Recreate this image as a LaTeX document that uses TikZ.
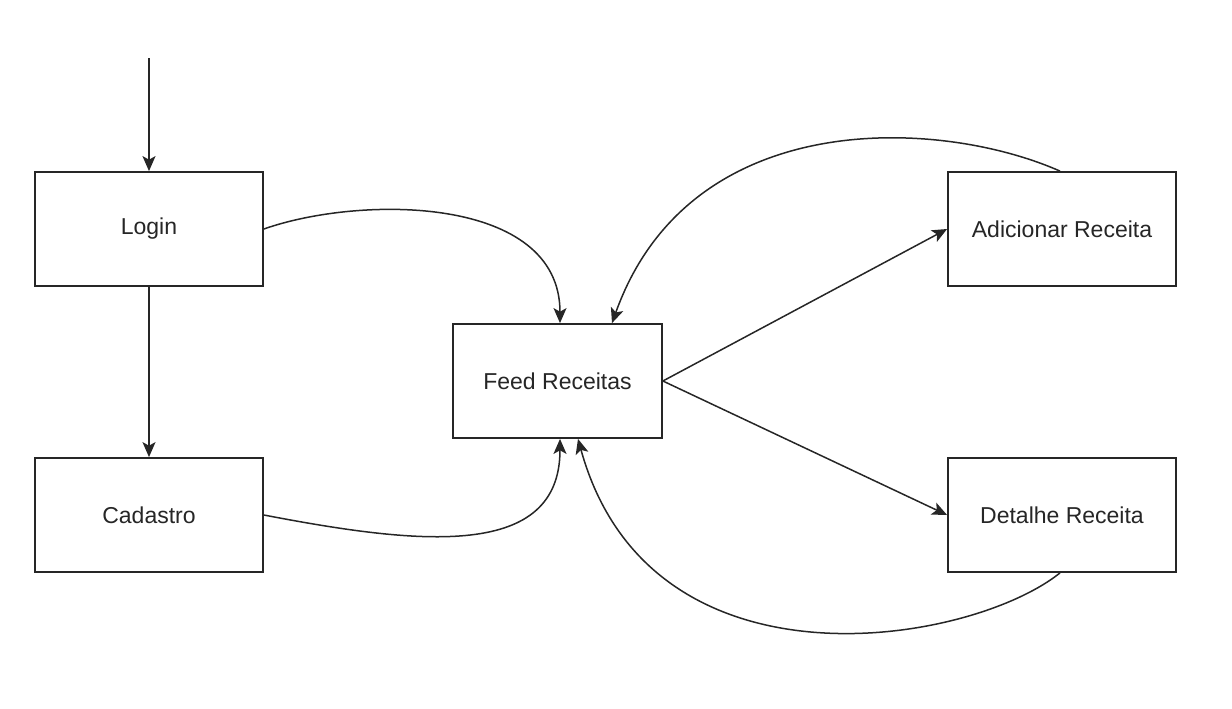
\documentclass[tikz,border=0pt]{standalone}
\usepackage{fontspec}
\setmainfont{Liberation Sans}
\usetikzlibrary{arrows.meta}
\begin{document}
\begin{tikzpicture}[x=0.5pt,y=-0.5pt,
  box/.style={draw=black!85,line width=0.9pt,fill=white,minimum width=114pt,minimum height=57pt,inner sep=0pt,font=\fontsize{11.5}{13}\selectfont,text=black!85},
  conn/.style={draw=black!85,line width=0.75pt,-{Stealth[length=7.5pt,width=6.5pt,inset=1.8pt]}}]
\useasboundingbox (0,0) rectangle (1232,708);
\node[box] (login) at (149,229) {Login};
\node[box] (cad) at (149,515) {Cadastro};
\node[box,minimum width=104.5pt] (feed) at (557.5,381) {Feed Receitas};
\node[box] (add) at (1062,229) {Adicionar Receita};
\node[box] (det) at (1062,515) {Detalhe Receita};
\coordinate (start) at (149,58);
\draw[conn] (start) -- (login.north);
\draw[conn] (login.south) -- (cad.north);
\draw[conn] (login.east) .. controls (360,195) and (560,195) .. (feed.north -| 560,0);
\draw[conn] (cad.east) .. controls (420,545) and (560,560) .. (feed.south -| 560,0);
\draw[conn] (feed.east) -- (add.west);
\draw[conn] (feed.east) -- (det.west);
\draw[conn] (add.north -| 1060,0) .. controls (940,118) and (690,105) .. (feed.north -| 612,0);
\draw[conn] (det.south -| 1060,0) .. controls (970,645) and (650,700) .. (feed.south -| 578,0);
\end{tikzpicture}
\end{document}
